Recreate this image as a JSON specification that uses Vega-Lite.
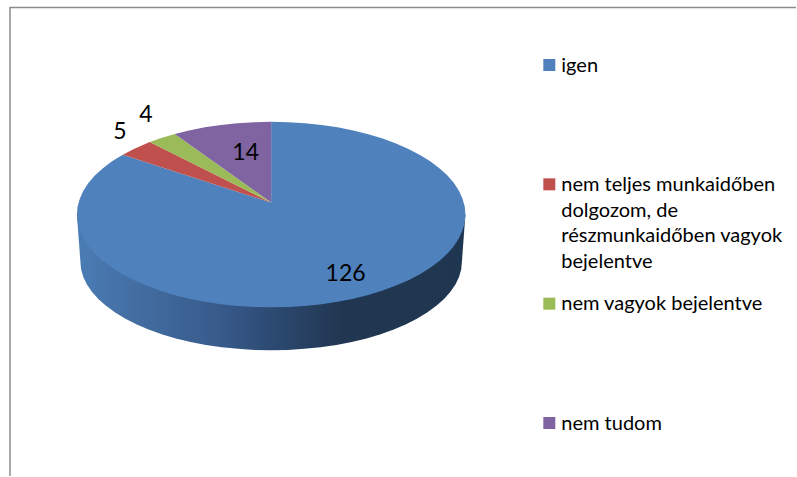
{
"$schema":"https://vega.github.io/schema/vega-lite/v6.json",
"width":797,"height":477,
"autosize":{"type":"fit","contains":"padding"},
"padding":0,
"background":"white",
"view":{"stroke":null},
"datasets":{
"slices":[
{"category":"igen","value":126,"labelX":74.5,"labelY":-60},
{"category":"nem teljes munkaidőben\ndolgozom, de\nrészmunkaidőben vagyok\nbejelentve","value":5,"labelX":-151.5,"labelY":83},
{"category":"nem vagyok bejelentve","value":4,"labelX":-125.5,"labelY":100},
{"category":"nem tudom","value":14,"labelX":-25.5,"labelY":62}
],
"wall":[
{"i":0,"x":194.5,"y":0},{"i":90,"x":191,"y":-47},{"i":95,"x":190.3,"y":-54.8},{"i":100,"x":188.1,"y":-62.5},{"i":105,"x":184.5,"y":-70},{"i":110,"x":179.5,"y":-77.4},{"i":115,"x":173.1,"y":-84.6},{"i":120,"x":165.4,"y":-91.5},{"i":125,"x":156.5,"y":-98},{"i":130,"x":146.3,"y":-104.2},{"i":135,"x":135.1,"y":-109.9},{"i":140,"x":122.8,"y":-115.2},{"i":145,"x":109.6,"y":-119.9},{"i":150,"x":95.5,"y":-124.1},{"i":155,"x":80.7,"y":-127.7},{"i":160,"x":65.3,"y":-130.6},{"i":165,"x":49.4,"y":-133},{"i":170,"x":33.2,"y":-134.6},{"i":175,"x":16.7,"y":-135.7},{"i":180,"x":0,"y":-136},
{"i":185,"x":-16.7,"y":-135.7},{"i":190,"x":-33.2,"y":-134.6},{"i":195,"x":-49.4,"y":-133},{"i":200,"x":-65.3,"y":-130.6},{"i":205,"x":-80.7,"y":-127.7},{"i":210,"x":-95.5,"y":-124.1},{"i":215,"x":-109.6,"y":-119.9},{"i":220,"x":-122.8,"y":-115.2},{"i":225,"x":-135.1,"y":-109.9},{"i":230,"x":-146.3,"y":-104.2},{"i":235,"x":-156.5,"y":-98},{"i":240,"x":-165.4,"y":-91.5},{"i":245,"x":-173.1,"y":-84.6},{"i":250,"x":-179.5,"y":-77.4},{"i":255,"x":-184.5,"y":-70},{"i":260,"x":-188.1,"y":-62.5},{"i":265,"x":-190.3,"y":-54.8},{"i":270,"x":-191,"y":-47},{"i":400,"x":-194.5,"y":0}
],
"surface":[
{"s":"igen","i":0,"x":0,"y":12},{"s":"igen","i":1,"x":0,"y":93},{"s":"igen","i":2,"x":17,"y":92.6},{"s":"igen","i":3,"x":33.8,"y":91.6},{"s":"igen","i":4,"x":50.3,"y":89.8},{"s":"igen","i":5,"x":66.5,"y":87.4},{"s":"igen","i":6,"x":82.2,"y":84.3},{"s":"igen","i":7,"x":97.3,"y":80.5},{"s":"igen","i":8,"x":111.6,"y":76.2},{"s":"igen","i":9,"x":125,"y":71.2},{"s":"igen","i":10,"x":137.5,"y":65.8},{"s":"igen","i":11,"x":149,"y":59.8},{"s":"igen","i":12,"x":159.3,"y":53.3},{"s":"igen","i":13,"x":168.4,"y":46.5},{"s":"igen","i":14,"x":176.3,"y":39.3},{"s":"igen","i":15,"x":182.8,"y":31.8},{"s":"igen","i":16,"x":187.9,"y":24.1},{"s":"igen","i":17,"x":191.5,"y":16.1},{"s":"igen","i":18,"x":193.8,"y":8.1},{"s":"igen","i":19,"x":194.5,"y":0},
{"s":"igen","i":20,"x":193.8,"y":-8.1},{"s":"igen","i":21,"x":191.5,"y":-16.1},{"s":"igen","i":22,"x":187.9,"y":-24.1},{"s":"igen","i":23,"x":182.8,"y":-31.8},{"s":"igen","i":24,"x":176.3,"y":-39.3},{"s":"igen","i":25,"x":168.4,"y":-46.5},{"s":"igen","i":26,"x":159.3,"y":-53.3},{"s":"igen","i":27,"x":149,"y":-59.8},{"s":"igen","i":28,"x":137.5,"y":-65.8},{"s":"igen","i":29,"x":125,"y":-71.2},{"s":"igen","i":30,"x":111.6,"y":-76.2},{"s":"igen","i":31,"x":97.3,"y":-80.5},{"s":"igen","i":32,"x":82.2,"y":-84.3},{"s":"igen","i":33,"x":66.5,"y":-87.4},{"s":"igen","i":34,"x":50.3,"y":-89.8},{"s":"igen","i":35,"x":33.8,"y":-91.6},{"s":"igen","i":36,"x":17,"y":-92.6},{"s":"igen","i":37,"x":0,"y":-93},
{"s":"igen","i":38,"x":-17,"y":-92.6},{"s":"igen","i":39,"x":-33.8,"y":-91.6},{"s":"igen","i":40,"x":-50.3,"y":-89.8},{"s":"igen","i":41,"x":-66.5,"y":-87.4},{"s":"igen","i":42,"x":-82.2,"y":-84.3},{"s":"igen","i":43,"x":-97.3,"y":-80.5},{"s":"igen","i":44,"x":-111.6,"y":-76.2},{"s":"igen","i":45,"x":-125,"y":-71.2},{"s":"igen","i":46,"x":-137.5,"y":-65.8},{"s":"igen","i":47,"x":-149,"y":-59.8},{"s":"igen","i":48,"x":-159.3,"y":-53.3},{"s":"igen","i":49,"x":-168.4,"y":-46.5},{"s":"igen","i":50,"x":-176.3,"y":-39.3},{"s":"igen","i":51,"x":-182.8,"y":-31.8},{"s":"igen","i":52,"x":-187.9,"y":-24.1},{"s":"igen","i":53,"x":-191.5,"y":-16.1},{"s":"igen","i":54,"x":-193.8,"y":-8.1},{"s":"igen","i":55,"x":-194.5,"y":0},
{"s":"igen","i":56,"x":-193.8,"y":8.1},{"s":"igen","i":57,"x":-191.5,"y":16.1},{"s":"igen","i":58,"x":-187.9,"y":24.1},{"s":"igen","i":59,"x":-182.8,"y":31.8},{"s":"igen","i":60,"x":-176.3,"y":39.3},{"s":"igen","i":61,"x":-168.4,"y":46.5},{"s":"igen","i":62,"x":-159.3,"y":53.3},{"s":"igen","i":63,"x":-148.5,"y":60},
{"s":"nem teljes","i":0,"x":0,"y":12},{"s":"nem teljes","i":1,"x":-148.5,"y":60},{"s":"nem teljes","i":2,"x":-137.5,"y":65.8},{"s":"nem teljes","i":3,"x":-125,"y":71.2},{"s":"nem teljes","i":4,"x":-121.5,"y":72.6},
{"s":"nem vagyok","i":0,"x":0,"y":12},{"s":"nem vagyok","i":1,"x":-121.5,"y":72.6},{"s":"nem vagyok","i":2,"x":-111.6,"y":76.2},{"s":"nem vagyok","i":3,"x":-96.5,"y":80.8},
{"s":"nem tudom","i":0,"x":0,"y":12},{"s":"nem tudom","i":1,"x":-96.5,"y":80.8},{"s":"nem tudom","i":2,"x":-82.2,"y":84.3},{"s":"nem tudom","i":3,"x":-66.5,"y":87.4},{"s":"nem tudom","i":4,"x":-50.3,"y":89.8},{"s":"nem tudom","i":5,"x":-33.8,"y":91.6},{"s":"nem tudom","i":6,"x":-17,"y":92.6},{"s":"nem tudom","i":7,"x":0,"y":93}
]
},
"resolve":{"scale":{"y":"independent","fill":"independent"}},
"layer":[
{"data":{"name":"wall"},
 "mark":{"type":"line","strokeWidth":0,"fill":{"gradient":"linear","x1":0,"y1":0,"x2":1,"y2":0,"stops":[{"offset":0,"color":"#4a7cb5"},{"offset":0.17,"color":"#426c9f"},{"offset":0.38,"color":"#37598a"},{"offset":0.5,"color":"#2c4a72"},{"offset":0.68,"color":"#213751"},{"offset":1,"color":"#1f3651"}]}},
 "encoding":{
  "x":{"field":"x","type":"quantitative","scale":{"domain":[-271.5,525.5]},"axis":null},
  "y":{"field":"y","type":"quantitative","scale":{"domain":[-262,215]},"axis":null},
  "order":{"field":"i","type":"quantitative"}}},
{"data":{"name":"surface"},
 "mark":{"type":"line","strokeWidth":0},
 "encoding":{
  "x":{"field":"x","type":"quantitative","scale":{"domain":[-271.5,525.5]},"axis":null},
  "y":{"field":"y","type":"quantitative","scale":{"domain":[-262,215]},"axis":null},
  "order":{"field":"i","type":"quantitative"},
  "fill":{"field":"s","type":"nominal","scale":{"domain":["igen","nem teljes","nem vagyok","nem tudom"],"range":["#4f81bd","#c0504d","#9bbb59","#8064a2"]},"legend":null}}},
{"data":{"name":"slices"},
 "mark":{"type":"text","font":"Lato","fontSize":23,"color":"#000000","align":"center","baseline":"middle"},
 "encoding":{
  "x":{"field":"labelX","type":"quantitative","scale":{"domain":[-271.5,525.5]},"axis":null},
  "y":{"field":"labelY","type":"quantitative","scale":{"domain":[-262,215]},"axis":null},
  "text":{"field":"value","type":"quantitative"}}},
{"data":{"name":"slices"},
 "mark":{"type":"point","shape":"square","filled":true,"size":144,"opacity":1,"strokeWidth":0},
 "encoding":{
  "x":{"datum":278.5,"type":"quantitative","scale":{"domain":[-271.5,525.5]},"axis":null},
  "y":{"field":"category","type":"nominal","sort":null,"scale":{"type":"point","padding":0,"range":[65,423]},"axis":null},
  "fill":{"field":"category","type":"nominal","sort":null,"scale":{"range":["#4f81bd","#c0504d","#9bbb59","#8064a2"]},"legend":null}}},
{"data":{"name":"slices"},
 "mark":{"type":"text","font":"Lato","fontSize":20,"color":"#000000","align":"left","baseline":"alphabetic","dy":6.5,"lineBreak":"\n","lineHeight":25.7},
 "encoding":{
  "x":{"datum":290.5,"type":"quantitative","scale":{"domain":[-271.5,525.5]},"axis":null},
  "y":{"field":"category","type":"nominal","sort":null,"scale":{"type":"point","padding":0,"range":[65,423]},"axis":null},
  "text":{"field":"category","type":"nominal"}}},
{"data":{"values":[{"edge":"top"}]},
 "mark":{"type":"rule","color":"#8c8c8c","strokeWidth":1.5},
 "encoding":{
  "x":{"datum":-262,"type":"quantitative","scale":{"domain":[-271.5,525.5]},"axis":null},
  "x2":{"datum":525.5},
  "y":{"datum":207.5,"type":"quantitative","scale":{"domain":[-262,215]},"axis":null}}},
{"data":{"values":[{"edge":"left"}]},
 "mark":{"type":"rule","color":"#8c8c8c","strokeWidth":1.5},
 "encoding":{
  "x":{"datum":-261.5,"type":"quantitative","scale":{"domain":[-271.5,525.5]},"axis":null},
  "y":{"datum":207.5,"type":"quantitative","scale":{"domain":[-262,215]},"axis":null},
  "y2":{"datum":-262}}}
]
}
